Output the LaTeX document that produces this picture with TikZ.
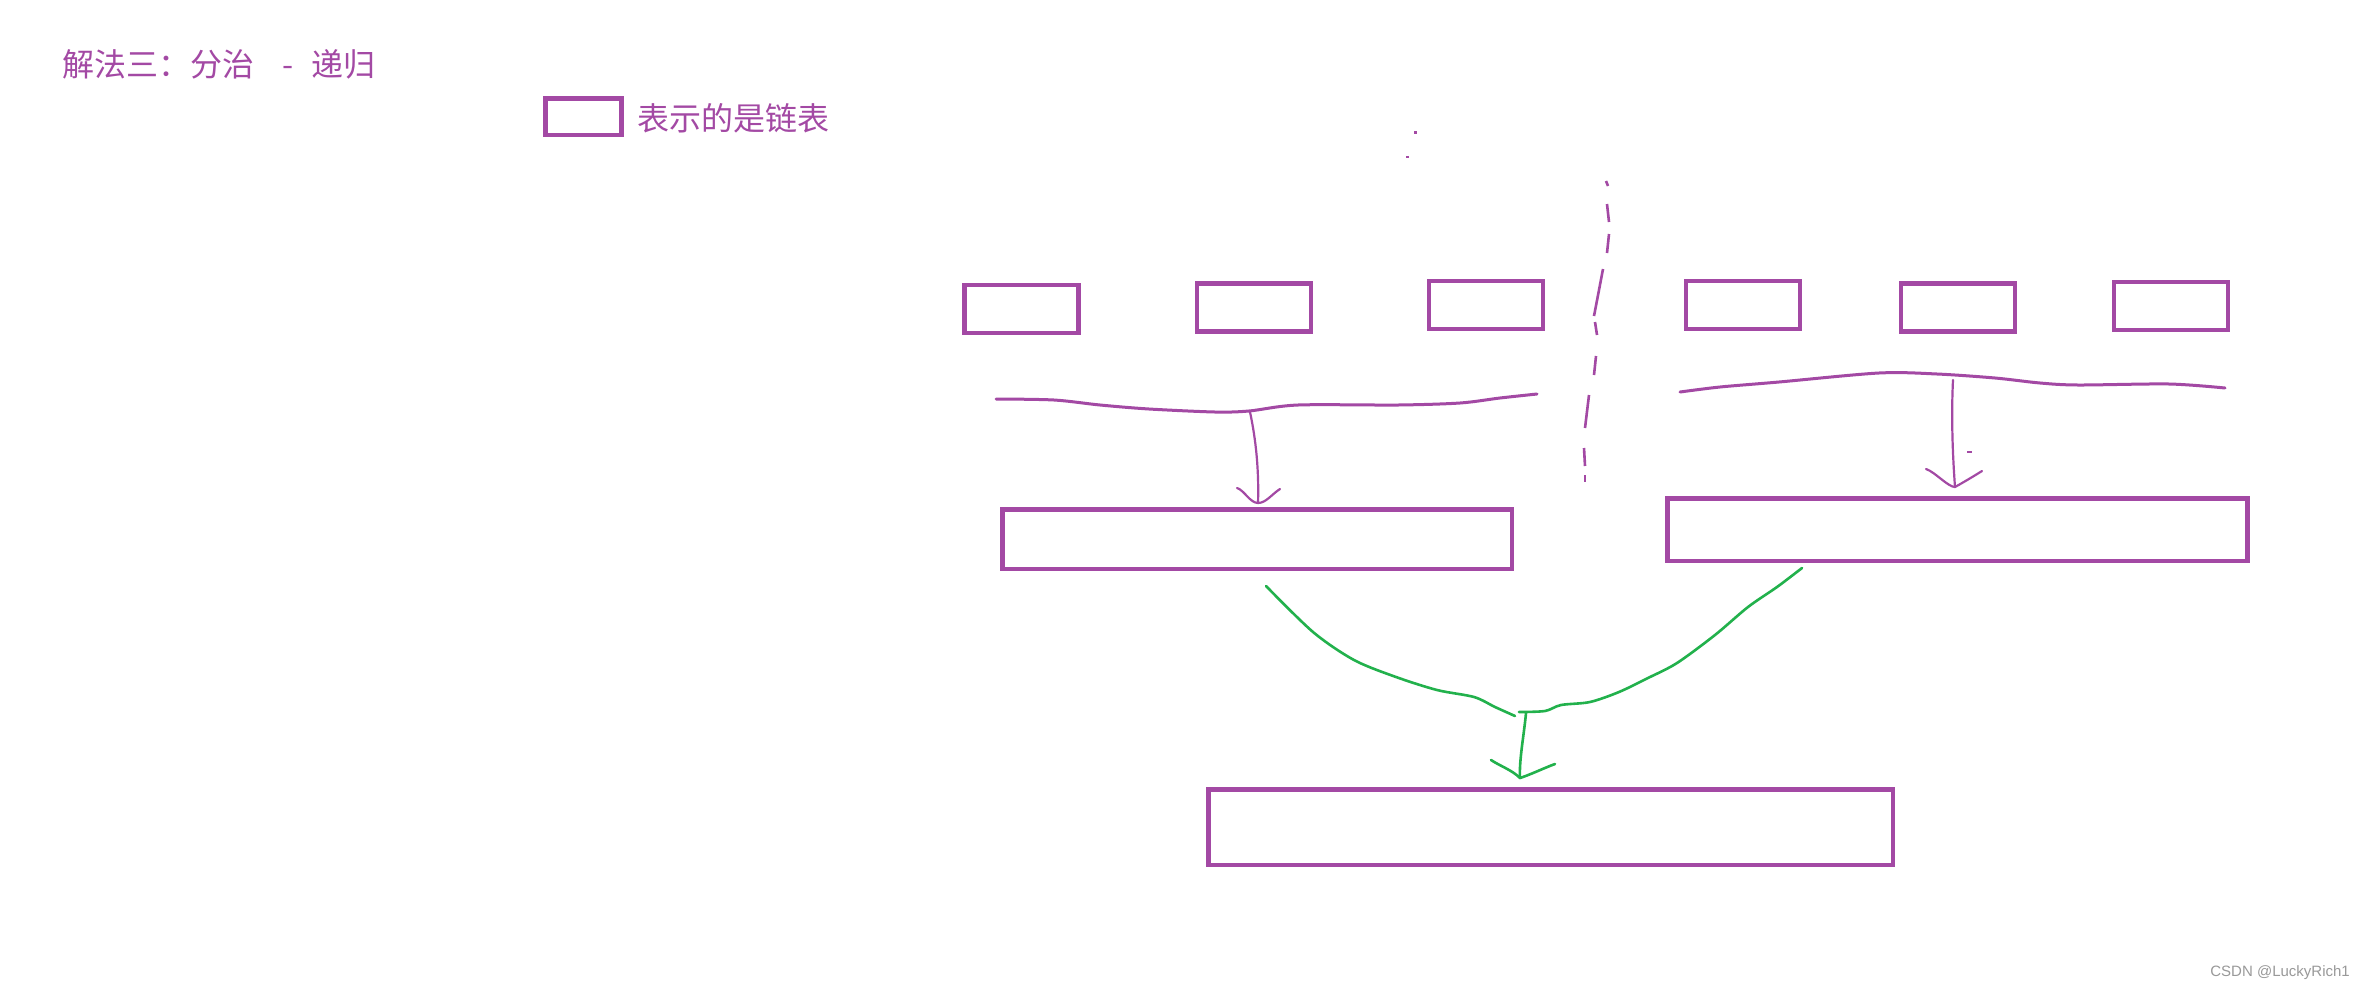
\documentclass[tikz,border=0pt]{standalone}
\usepackage{fontspec}
\setmainfont{Liberation Sans}
\newfontfamily\cjk{Noto Sans CJK SC}
\definecolor{pp}{HTML}{A349A4}
\definecolor{gg}{HTML}{22B14C}
\begin{document}
\begin{tikzpicture}[x=1pt,y=-1pt,
  box/.style={draw=pp, line width=4.5pt, inner sep=0pt, minimum width=114pt, minimum height=48pt},
  wave/.style={draw=pp, line width=3pt, line join=round, line cap=round},
  parrow/.style={draw=pp, line width=2.2pt, line cap=round, line join=round},
  garrow/.style={draw=gg, line width=2.6pt, line cap=round, line join=round},
  divider/.style={draw=pp, line width=2.6pt, line cap=butt},
  label/.style={inner sep=0pt, text=pp}]
\useasboundingbox (0,0) rectangle (2364,991);
\fill[white] (0,0) rectangle (2364,991);

% title and legend
\node[label, anchor=west, font=\cjk\fontsize{32}{32}\selectfont] (title) at (62,64) {解法三：分治\hspace{28pt}-\hspace{18pt}递归};
\node[box, minimum width=76pt, minimum height=36.5pt] (legend) at (583.5,116.5) {};
\node[label, anchor=west, font=\cjk\fontsize{32}{32}\selectfont] (legendtext) at (637,118) {表示的是链表};

% stray dots
\fill[pp] (1414,131) rectangle (1417,134);
\fill[pp] (1406,156) rectangle (1409,158);

% small boxes
\node[box] (s1) at (1021.5,309) {};
\node[box] (s2) at (1254,307.5) {};
\node[box] (s3) at (1486,305) {};
\node[box] (s4) at (1743,305) {};
\node[box] (s5) at (1958,307.5) {};
\node[box] (s6) at (2171,306) {};

% medium boxes
\node[box, minimum width=509.5pt, minimum height=59.5pt] (ml) at (1257,539) {};
\node[box, minimum width=580pt, minimum height=62.5pt] (mr) at (1957.5,529.5) {};
% bottom box
\node[box, minimum width=684.5pt, minimum height=75.5pt] (bot) at (1550.5,827) {};

% dashed divider
\draw[divider] (1606,181) -- (1608,186);
\draw[divider] (1607,204) -- (1609,222);
\draw[divider] (1609,234) -- (1607,253);
\draw[divider] (1603,269) -- (1599,290) -- (1594,316);
\draw[divider] (1595,322) -- (1597,335);
\draw[divider] (1596,356) -- (1594,375);
\draw[divider] (1589,395) -- (1585,428);
\draw[divider] (1584,448) -- (1585,466);
\draw[divider] (1585,475) -- (1585,482);

% left wave and arrow
\draw[wave] plot[smooth, tension=0.5] coordinates {(996,399) (1054,400) (1100,405) (1149,409) (1215,412) (1249,411) (1298,405) (1398,405) (1460,403) (1500,398) (1537,394)};
\coordinate (wl) at (1250,412);
\coordinate (tl) at (1258,503);
\draw[parrow] (wl) .. controls (1256,440) and (1259,470) .. (tl);
\draw[parrow] (1237,488) .. controls (1244,490) and (1250,503) .. (tl) .. controls (1266,503) and (1272,494) .. (1280,489);

% right wave and arrow
\draw[wave] plot[smooth, tension=0.5] coordinates {(1680,392) (1720,387) (1779,382) (1879,373) (1937,374) (1995,378) (2040,383) (2078,385) (2169,384) (2225,388)};
\coordinate (wr) at (1953,380);
\coordinate (tr) at (1955,487);
\draw[parrow] (wr) .. controls (1951,420) and (1953,460) .. (tr);
\draw[parrow] (1926,469) .. controls (1935,472) and (1948,487) .. (tr) .. controls (1964,482) and (1974,476) .. (1982,471);
\draw[draw=pp, line width=1.5pt] (1967,452) -- (1972,452);

% green merge curves and arrow
\draw[garrow] plot[smooth, tension=0.5] coordinates {(1266,586) (1313,632) (1354,660) (1396,677) (1437,690) (1474,697) (1495,707) (1515,716)};
\draw[garrow] plot[smooth, tension=0.5] coordinates {(1802,568) (1777,587) (1748,607) (1715,635) (1677,663) (1648,678) (1619,692) (1590,702) (1561,705) (1545,711) (1519,712)};
\coordinate (gm) at (1526,713);
\coordinate (gt) at (1520,778);
\draw[garrow] (gm) .. controls (1524,735) and (1519,760) .. (gt);
\draw[garrow] (1491,760) .. controls (1500,766) and (1512,770) .. (gt) .. controls (1532,774) and (1544,768) .. (1555,764);

% watermark
\node[anchor=east, inner sep=0pt, text=black!40, font=\fontsize{15}{15}\selectfont] (wm) at (2350,973) {CSDN @LuckyRich1};
\end{tikzpicture}
\end{document}
